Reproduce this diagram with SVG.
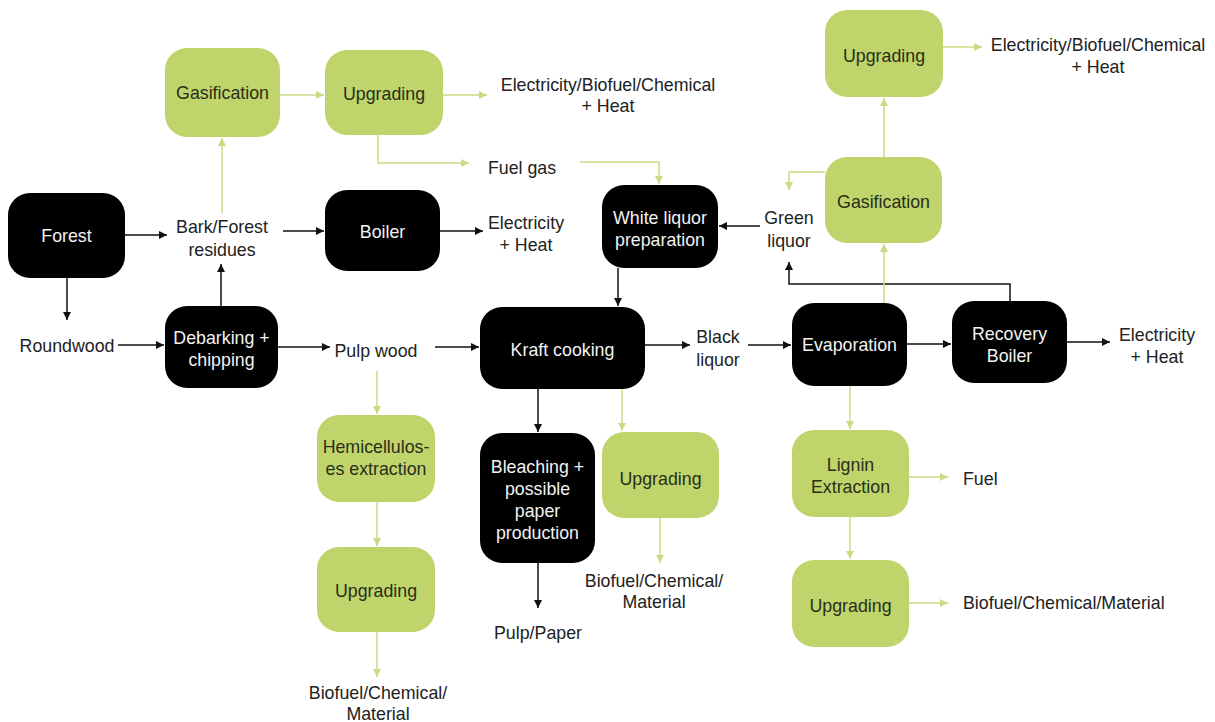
<svg xmlns="http://www.w3.org/2000/svg" width="1215" height="722" viewBox="0 0 1215 722">
<style>
.blk{fill:#000}
.grn{fill:#bfd56c}
.tw{fill:#f2f2f2;font-family:"Liberation Sans",Arial,sans-serif;font-size:17.8px;text-anchor:middle}
.tg{fill:#2a2e18;font-family:"Liberation Sans",Arial,sans-serif;font-size:17.8px;text-anchor:middle}
.t{fill:#222;font-family:"Liberation Sans",Arial,sans-serif;font-size:17.8px;text-anchor:middle}
.tl{fill:#222;font-family:"Liberation Sans",Arial,sans-serif;font-size:17.8px}
.cb{fill:none;stroke:#111;stroke-width:1.5;marker-end:url(#ab)}
.cg{fill:none;stroke:#c8dc84;stroke-width:1.5;marker-end:url(#ag)}
</style>
<defs>
<marker id="ab" viewBox="0 0 10 10" refX="10" refY="5" markerWidth="8" markerHeight="8" markerUnits="userSpaceOnUse" orient="auto"><path d="M0,0 L10,5 L0,10 z" fill="#111"/></marker>
<marker id="ag" viewBox="0 0 10 10" refX="10" refY="5" markerWidth="8" markerHeight="8" markerUnits="userSpaceOnUse" orient="auto"><path d="M0,0 L10,5 L0,10 z" fill="#c8dc84"/></marker>
</defs>
<rect width="1215" height="722" fill="#fff"/>

<g id="connectors">
<path class="cb" d="M125,235 H167"/>
<path class="cb" d="M67,278 V320"/>
<path class="cb" d="M118,345 H164"/>
<path class="cb" d="M221,306 V264"/>
<path class="cb" d="M283,231 H324"/>
<path class="cb" d="M440,231 H483"/>
<path class="cb" d="M278,347 H330"/>
<path class="cb" d="M435,347 H479"/>
<path class="cb" d="M645,345 H690"/>
<path class="cb" d="M748,345 H791"/>
<path class="cb" d="M907,344 H951"/>
<path class="cb" d="M1067,342 H1110"/>
<path class="cb" d="M1010,301 V284 H789 V262"/>
<path class="cb" d="M760,226 H719"/>
<path class="cb" d="M618,268 V306"/>
<path class="cb" d="M538,389 V432"/>
<path class="cb" d="M538,563 V608"/>
<path class="cg" d="M222,213 V138"/>
<path class="cg" d="M280,95 H324"/>
<path class="cg" d="M443,95 H487"/>
<path class="cg" d="M378,135 V163 H469"/>
<path class="cg" d="M580,162 H659 V184"/>
<path class="cg" d="M825,172 H789 V190"/>
<path class="cg" d="M884,157 V98"/>
<path class="cg" d="M943,47 H982"/>
<path class="cg" d="M884,303 V244"/>
<path class="cg" d="M850,386 V429"/>
<path class="cg" d="M909,477 H948"/>
<path class="cg" d="M850,517 V559"/>
<path class="cg" d="M909,603 H948"/>
<path class="cg" d="M377,371 V414"/>
<path class="cg" d="M377,502 V546"/>
<path class="cg" d="M377,632 V677"/>
<path class="cg" d="M622,389 V431"/>
<path class="cg" d="M660,518 V563"/>
</g>

<g id="forest"><rect class="blk" x="8" y="193" width="117" height="85" rx="22"/><text class="tw" x="66.5" y="242">Forest</text></g>
<g id="debarking"><rect class="blk" x="165" y="306" width="113" height="82" rx="22"/><text class="tw" x="221.5" y="344">Debarking +</text><text class="tw" x="221.5" y="366">chipping</text></g>
<g id="gasification1"><rect class="grn" x="165" y="48" width="115" height="89" rx="22"/><text class="tg" x="222.5" y="99">Gasification</text></g>
<g id="upgrading1"><rect class="grn" x="325" y="50" width="118" height="85" rx="22"/><text class="tg" x="384" y="100">Upgrading</text></g>
<g id="boiler"><rect class="blk" x="325" y="190" width="115" height="81" rx="22"/><text class="tw" x="382.5" y="238">Boiler</text></g>
<g id="whiteliquor"><rect class="blk" x="602" y="185" width="116" height="83" rx="22"/><text class="tw" x="660" y="224">White liquor</text><text class="tw" x="660" y="246">preparation</text></g>
<g id="kraft"><rect class="blk" x="480" y="307" width="165" height="82" rx="22"/><text class="tw" x="562.5" y="356">Kraft cooking</text></g>
<g id="evaporation"><rect class="blk" x="792" y="303" width="115" height="83" rx="22"/><text class="tw" x="849.5" y="351">Evaporation</text></g>
<g id="recovery"><rect class="blk" x="952" y="301" width="115" height="82" rx="22"/><text class="tw" x="1009.5" y="340">Recovery</text><text class="tw" x="1009.5" y="362">Boiler</text></g>
<g id="upgrading2"><rect class="grn" x="825" y="10" width="118" height="87" rx="22"/><text class="tg" x="884" y="62">Upgrading</text></g>
<g id="gasification2"><rect class="grn" x="825" y="157" width="117" height="86" rx="22"/><text class="tg" x="883.5" y="208">Gasification</text></g>
<g id="hemi"><rect class="grn" x="317" y="415" width="118" height="87" rx="22"/><text class="tg" x="376" y="453">Hemicellulos-</text><text class="tg" x="376" y="475">es extraction</text></g>
<g id="upgrading3"><rect class="grn" x="317" y="547" width="118" height="85" rx="22"/><text class="tg" x="376" y="597">Upgrading</text></g>
<g id="bleaching"><rect class="blk" x="480" y="433" width="115" height="130" rx="22"/><text class="tw" x="537.5" y="473">Bleaching +</text><text class="tw" x="537.5" y="495">possible</text><text class="tw" x="537.5" y="517">paper</text><text class="tw" x="537.5" y="539">production</text></g>
<g id="upgrading4"><rect class="grn" x="602" y="432" width="117" height="86" rx="22"/><text class="tg" x="660.5" y="485">Upgrading</text></g>
<g id="lignin"><rect class="grn" x="792" y="430" width="117" height="87" rx="22"/><text class="tg" x="850.5" y="471">Lignin</text><text class="tg" x="850.5" y="493">Extraction</text></g>
<g id="upgrading5"><rect class="grn" x="792" y="560" width="117" height="87" rx="22"/><text class="tg" x="850.5" y="612">Upgrading</text></g>

<g id="labels">
<text class="t" x="222" y="233">Bark/Forest</text><text class="t" x="222" y="256">residues</text>
<text class="t" x="67" y="352">Roundwood</text>
<text class="t" x="376" y="357">Pulp wood</text>
<text class="t" x="608" y="91">Electricity/Biofuel/Chemical</text><text class="t" x="608" y="112">+ Heat</text>
<text class="t" x="522" y="174">Fuel gas</text>
<text class="t" x="526" y="229">Electricity</text><text class="t" x="526" y="251">+ Heat</text>
<text class="t" x="789" y="224">Green</text><text class="t" x="789" y="247">liquor</text>
<text class="t" x="718" y="343">Black</text><text class="t" x="718" y="366">liquor</text>
<text class="t" x="1157" y="341">Electricity</text><text class="t" x="1157" y="363">+ Heat</text>
<text class="t" x="1098" y="51">Electricity/Biofuel/Chemical</text><text class="t" x="1098" y="73">+ Heat</text>
<text class="tl" x="963" y="485">Fuel</text>
<text class="tl" x="963" y="609">Biofuel/Chemical/Material</text>
<text class="t" x="654" y="587">Biofuel/Chemical/</text><text class="t" x="654" y="608">Material</text>
<text class="t" x="538" y="639">Pulp/Paper</text>
<text class="t" x="378" y="699">Biofuel/Chemical/</text><text class="t" x="378" y="720">Material</text>
</g>
</svg>
